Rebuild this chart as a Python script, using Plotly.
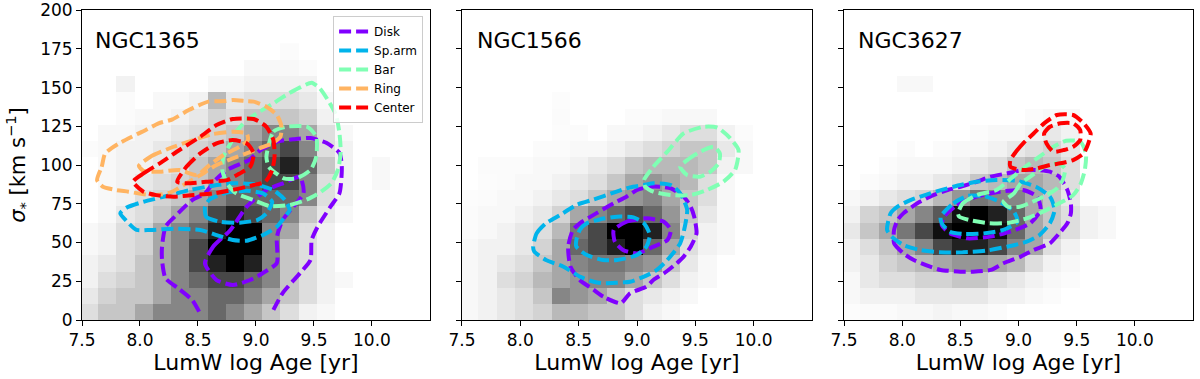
import numpy as np
import plotly.graph_objects as go

# ---------------- data ----------------
GALAXIES = ["NGC1365", "NGC1566", "NGC3627"]
REGIONS = ["Disk", "Sp.arm", "Bar", "Ring", "Center"]
REGION_COLORS = ["#8000ff", "#01b4eb", "#80ffb4", "#ffb462", "#ff0000"]

X_TICKS = [7.5, 8.0, 8.5, 9.0, 9.5, 10.0]
Y_TICKS = [0, 25, 50, 75, 100, 125, 150, 175, 200]

# 2D histogram bins (log age, sigma)
X_BIN_START = 7.483
X_BIN_WIDTH = 0.157
N_XBINS = 18
Y_BIN_WIDTH = 10.5
N_YBINS = 17

# histogram counts (relative), rows from sigma=0 upward
H_NGC1365 = [
    [2, 3, 3, 4, 5, 5, 5, 6, 5, 4, 3, 2, 1, 0.5, 0, 0, 0, 0],
    [1.5, 2.5, 3, 3, 4, 5, 5, 6, 6, 5, 4, 3, 2, 1, 0, 0, 0, 0],
    [1, 2, 2.5, 3, 4, 5, 6, 7, 7, 6, 5, 3, 2, 1, 0.5, 0, 0, 0],
    [1, 1.5, 2, 3, 4, 5, 7, 8, 9, 8, 5, 3, 2, 1, 0, 0, 0, 0],
    [0.5, 1, 2, 2.5, 4, 5, 7, 9, 10, 9, 5, 3, 2, 1, 0, 0, 0, 0],
    [0.5, 1, 2, 2.5, 4, 5, 6, 8, 9, 9, 5, 4, 2, 1, 0, 0, 0, 0],
    [0, 0.5, 1.5, 2, 3, 4, 5, 7, 8, 7, 6, 5, 3, 1.5, 0.5, 0, 0, 0],
    [0, 0.5, 1, 2, 2.5, 3, 4, 5, 6, 6, 6, 6, 5, 2, 1, 0, 0, 0],
    [0, 0.5, 1, 1.5, 2, 2.5, 3, 4, 5, 6, 7, 7, 5, 2, 1, 0, 0.5, 0],
    [0, 0.5, 1, 1, 1.5, 2, 3, 4, 5, 6, 7, 8, 6, 3, 1, 0, 0.5, 0],
    [0.3, 0.5, 1, 1, 1.5, 2, 2.5, 3, 4, 5, 6, 7, 5, 2, 1, 0, 0, 0],
    [0, 0.5, 0.5, 1, 1, 1.5, 2, 2.5, 3, 4, 5, 5, 4, 2, 0.5, 0, 0, 0],
    [0, 0, 0.3, 0.5, 0.5, 1, 1.5, 2.5, 2, 3, 3, 3, 2.5, 1, 0, 0, 0, 0],
    [0, 0, 0.3, 0, 0.5, 0.5, 1, 3.5, 1.5, 2, 2, 2, 1.5, 0.5, 0, 0, 0, 0],
    [0, 0, 1, 0, 0, 0, 0, 0.5, 0.5, 1, 1, 1, 1, 0, 0, 0, 0, 0],
    [0, 0, 0, 0, 0, 0, 0, 0, 0, 0.5, 0.5, 0.5, 0.3, 0, 0, 0, 0, 0],
    [0, 0, 0, 0, 0, 0, 0, 0, 0, 0, 0, 0.3, 0, 0, 0, 0, 0, 0],
]
H_NGC1566 = [
    [0.5, 1, 1.5, 2, 2.5, 3.5, 3.5, 3, 3, 2, 1, 0.5, 0, 0, 0, 0, 0, 0],
    [0.5, 1, 1.5, 2, 3, 5, 4.5, 4, 3, 2, 1.5, 1, 0.5, 0, 0, 0, 0, 0],
    [0.5, 1, 2, 2.5, 3.5, 4, 4.5, 5, 5, 4, 3, 2, 1, 0.5, 0, 0, 0, 0],
    [0.5, 1, 1.5, 2, 3, 4, 5, 5.5, 5.5, 5, 4.5, 3, 1.5, 0.5, 0, 0, 0, 0],
    [0.5, 1, 1, 1.5, 2.5, 4, 6, 7, 8, 10, 6, 4, 2, 1, 0.5, 0, 0, 0],
    [0.3, 0.5, 1, 1.5, 2, 3.5, 5.5, 7, 9, 9, 8, 5, 2.5, 1, 0.5, 0, 0, 0],
    [0.3, 0.5, 0.5, 1, 1.5, 2.5, 4, 5, 6, 7, 6, 4.5, 3, 1.5, 0.5, 0, 0, 0],
    [0.2, 0.3, 0.5, 0.5, 1, 1.5, 2, 3, 4, 4.5, 5, 4, 3, 2, 0.5, 0, 0, 0],
    [0, 0.2, 0.3, 0.5, 0.5, 1, 1.5, 2, 3, 4, 4.5, 4, 3.5, 2, 0.5, 0, 0, 0],
    [0, 0.3, 0.3, 0.3, 0.5, 0.5, 1, 1.5, 2, 3, 3.5, 3.5, 3.5, 3, 1, 0.5, 0, 0],
    [0, 0, 0, 0, 0.3, 0.3, 0.5, 0.5, 1, 1.5, 2, 2.5, 3, 3, 1.5, 0.5, 0, 0],
    [0, 0, 0, 0, 0, 0.2, 0.3, 0, 0.5, 0.5, 1, 1.5, 2, 2, 1, 0.3, 0, 0],
    [0, 0, 0, 0, 0, 0.3, 0, 0, 0, 0.3, 0.3, 0.5, 0.5, 0.5, 0, 0, 0, 0],
    [0, 0, 0, 0, 0, 0.2, 0, 0, 0, 0, 0, 0, 0, 0, 0, 0, 0, 0],
    [0] * 18,
    [0] * 18,
    [0] * 18,
]
H_NGC3627 = [
    [0.2, 0.3, 0.3, 0.5, 0.5, 0.8, 0.5, 0.5, 0.3, 0, 0, 0, 0, 0, 0, 0, 0, 0],
    [0.5, 1, 1, 1, 1.5, 1.5, 1.5, 1.5, 1, 1, 0.5, 0.3, 0, 0, 0, 0, 0, 0],
    [0.5, 1.5, 2, 2, 2.5, 2.5, 3, 3, 2, 1.5, 1, 0.5, 0.3, 0, 0, 0, 0, 0],
    [1, 1.5, 2.5, 3, 3.5, 4, 4.5, 4.5, 4, 3.5, 2, 1, 0.5, 0, 0, 0, 0, 0],
    [1, 2, 3, 4, 5, 7, 8, 8, 7, 5, 4, 2, 1, 0, 0, 0, 0, 0],
    [1.5, 3, 4, 5.5, 7, 8.5, 9.5, 9.5, 8.5, 6, 4, 3, 2, 1, 0.5, 0, 0, 0],
    [1, 2.5, 3, 4, 5, 6.5, 8.5, 9, 8, 6, 4, 3, 2, 1, 0.5, 0, 0, 0],
    [0.5, 1, 1.5, 2, 2.5, 3.5, 4.5, 5.5, 5, 5, 4, 3, 1.5, 0, 0, 0, 0, 0],
    [0, 0.3, 0.5, 1, 1, 1.5, 2, 3, 3.5, 4, 4, 3.5, 2, 0, 0, 0, 0, 0],
    [0, 0, 0.3, 0.5, 0.5, 0.5, 1, 1.5, 2, 3, 3.5, 3, 2, 0, 0, 0, 0, 0],
    [0, 0, 0, 0.3, 0, 0.3, 0.5, 0.5, 1, 1.5, 2, 2.5, 1.5, 0, 0, 0, 0, 0],
    [0, 0, 0, 0, 0, 0, 0, 0.3, 0.5, 0.5, 1, 1.5, 1, 0, 0, 0, 0, 0],
    [0, 0, 0, 0, 0, 0, 0, 0, 0, 0, 0.3, 0.5, 0.5, 0, 0, 0, 0, 0],
    [0] * 18,
    [0, 0, 0, 0.5, 0.5, 0, 0, 0, 0, 0, 0, 0, 0, 0, 0, 0, 0, 0],
    [0] * 18,
    [0] * 18,
]

# ---- contour paths (log age, sigma) ----
# NGC1365
N1365_DISK_OUT_X = [8.51, 8.45, 8.33, 8.22, 8.19, 8.19, 8.22, 8.30, 8.45, 8.56, 8.65, 8.75, 8.94, 9.02, 9.18, 9.32, 9.47, 9.61, 9.72, 9.74, 9.72, 9.64, 9.53, 9.48, 9.47, 9.38, 9.23, 9.15]
N1365_DISK_OUT_Y = [5.4, 12.9, 20.4, 26.9, 38.7, 47.3, 60.2, 66.7, 77.4, 81.7, 90.3, 96.8, 103.2, 108.6, 115.1, 116.6, 117.4, 114.2, 107.7, 98.7, 81.9, 72.9, 60.0, 51.6, 38.7, 30.3, 17.4, 6.5]
N1365_DISK_IN_X = [8.56, 8.63, 8.78, 8.92, 9.09, 9.24, 9.38, 9.41, 9.32, 9.23, 9.18, 9.18, 9.06, 8.95, 8.80, 8.66, 8.56]
N1365_DISK_IN_Y = [36.6, 47.3, 58.1, 73.1, 83.9, 88.4, 92.3, 81.9, 72.9, 64.5, 53.5, 36.8, 30.3, 25.8, 22.6, 25.8, 36.6]
N1365_ARM_OUT_X = [7.83, 7.89, 8.03, 8.23, 8.43, 8.63, 8.80, 8.98, 9.15, 9.25, 9.29, 9.25, 9.18, 9.06, 8.92, 8.80, 8.66, 8.52, 8.29, 8.09, 7.97, 7.89, 7.83]
N1365_ARM_OUT_Y = [68.8, 72.7, 76.3, 80.0, 83.9, 86.7, 88.2, 87.7, 83.9, 77.4, 71.0, 66.7, 60.2, 54.8, 51.2, 51.6, 54.8, 58.1, 58.9, 58.1, 58.1, 63.4, 68.8]
N1365_ARM_IN_X = [8.56, 8.57, 8.69, 8.86, 9.01, 9.09, 9.14, 9.06, 8.92, 8.75, 8.60, 8.56]
N1365_ARM_IN_Y = [73.1, 66.7, 63.4, 62.8, 64.5, 68.8, 76.3, 81.7, 83.4, 82.2, 77.8, 73.1]
N1365_BAR_OUT_X = [9.48, 9.38, 9.26, 9.15, 9.03, 8.92, 8.83, 8.78, 8.72, 8.71, 8.75, 8.83, 8.98, 9.12, 9.29, 9.44, 9.55, 9.65, 9.71, 9.73, 9.72, 9.69, 9.62, 9.55, 9.48]
N1365_BAR_OUT_Y = [153.1, 150.1, 145.2, 139.8, 134.4, 129.0, 121.5, 114.0, 105.4, 96.8, 88.2, 81.7, 77.4, 73.5, 74.2, 77.8, 82.2, 88.2, 97.8, 108.6, 120.4, 132.3, 141.9, 149.5, 153.1]
N1365_BAR_IN_X = [9.09, 9.15, 9.26, 9.44, 9.52, 9.52, 9.47, 9.35, 9.24, 9.11, 9.09]
N1365_BAR_IN_Y = [105.4, 121.5, 124.7, 124.7, 118.3, 105.4, 96.8, 91.4, 91.4, 98.9, 105.4]
N1365_RING_OUT_X = [7.63, 7.67, 7.70, 7.82, 7.93, 8.05, 8.16, 8.28, 8.42, 8.51, 8.59, 8.74, 8.80, 8.91, 8.98, 9.09, 9.18, 9.22, 9.21, 9.14, 9.03, 8.92, 8.80, 8.66, 8.52, 8.40, 8.26, 8.14, 8.02, 7.90, 7.79, 7.68, 7.63]
N1365_RING_OUT_Y = [90.3, 98.9, 107.5, 114.0, 118.3, 122.6, 126.9, 129.5, 135.5, 138.7, 140.9, 141.3, 141.9, 141.3, 140.9, 137.6, 132.3, 124.7, 118.3, 114.0, 110.8, 107.5, 104.3, 100.0, 93.5, 88.2, 82.2, 80.6, 81.3, 82.8, 83.9, 86.0, 90.3]
N1365_RING_IN_X = [7.99, 8.09, 8.29, 8.46, 8.63, 8.80, 8.92, 8.93, 8.86, 8.72, 8.60, 8.49, 8.34, 8.17, 8.03, 7.99]
N1365_RING_IN_Y = [99.4, 105.4, 111.8, 116.1, 120.0, 121.5, 120.4, 116.1, 111.8, 106.5, 100.0, 93.5, 96.8, 95.7, 96.3, 99.4]
N1365_CEN_OUT_X = [7.94, 8.03, 8.17, 8.34, 8.52, 8.66, 8.80, 8.98, 9.09, 9.15, 9.16, 9.14, 9.08, 8.98, 8.80, 8.63, 8.46, 8.29, 8.14, 8.03, 7.94]
N1365_CEN_OUT_Y = [89.2, 94.6, 101.1, 109.7, 118.3, 125.8, 129.7, 129.7, 124.7, 116.1, 105.4, 96.8, 89.2, 87.1, 83.9, 81.7, 80.6, 79.6, 80.6, 82.8, 89.2]
N1365_CEN_IN_X = [8.32, 8.40, 8.52, 8.66, 8.80, 8.92, 8.98, 8.95, 8.86, 8.75, 8.57, 8.40, 8.32]
N1365_CEN_IN_Y = [89.2, 98.9, 107.5, 114.0, 116.1, 114.0, 107.5, 98.9, 94.6, 90.3, 89.2, 88.2, 89.2]

# NGC1566
N1566_DISK_OUT_X = [8.86, 8.71, 8.63, 8.51, 8.43, 8.41, 8.45, 8.51, 8.65, 8.80, 8.91, 9.00, 9.11, 9.20, 9.29, 9.40, 9.46, 9.49, 9.51, 9.46, 9.40, 9.34, 9.23, 9.14, 9.08, 8.94, 8.86]
N1566_DISK_OUT_Y = [10.8, 15.1, 19.4, 25.8, 34.4, 47.3, 58.1, 62.4, 68.8, 75.3, 79.6, 83.9, 86.0, 86.0, 84.9, 79.6, 73.1, 66.7, 55.9, 47.3, 40.9, 36.6, 30.1, 25.8, 21.5, 17.2, 10.8]
N1566_DISK_IN_X = [8.80, 8.91, 9.08, 9.23, 9.29, 9.26, 9.14, 9.00, 8.88, 8.81, 8.80]
N1566_DISK_IN_Y = [58.1, 63.4, 65.6, 63.4, 58.1, 51.6, 47.3, 43.0, 45.2, 50.5, 58.1]
N1566_ARM_OUT_X = [8.11, 8.14, 8.22, 8.34, 8.48, 8.63, 8.80, 8.94, 9.06, 9.14, 9.29, 9.36, 9.40, 9.43, 9.41, 9.37, 9.26, 9.17, 9.06, 8.94, 8.83, 8.71, 8.63, 8.51, 8.37, 8.22, 8.12, 8.11]
N1566_ARM_OUT_Y = [47.3, 55.9, 62.4, 67.7, 74.2, 77.8, 82.2, 85.6, 87.1, 88.2, 87.1, 82.8, 77.4, 71.0, 60.2, 49.5, 38.7, 32.3, 28.0, 24.7, 24.1, 23.7, 24.7, 28.0, 34.4, 38.7, 44.1, 47.3]
N1566_ARM_IN_X = [8.48, 8.51, 8.57, 8.68, 8.83, 8.97, 9.06, 9.11, 9.08, 9.00, 8.83, 8.71, 8.57, 8.48, 8.48]
N1566_ARM_IN_Y = [51.6, 58.1, 62.4, 64.9, 66.7, 66.2, 62.4, 54.8, 47.3, 41.9, 38.7, 38.7, 41.9, 47.3, 51.6]
N1566_BAR_OUT_X = [9.06, 9.14, 9.26, 9.40, 9.57, 9.69, 9.80, 9.87, 9.84, 9.74, 9.60, 9.46, 9.29, 9.14, 9.07, 9.06]
N1566_BAR_OUT_Y = [90.3, 98.9, 108.6, 120.4, 124.7, 124.1, 117.2, 109.7, 96.8, 89.2, 83.9, 80.6, 80.6, 82.8, 86.0, 90.3]
N1566_BAR_IN_X = [9.37, 9.43, 9.54, 9.66, 9.71, 9.70, 9.63, 9.54, 9.43, 9.37]
N1566_BAR_IN_Y = [98.9, 103.2, 108.6, 111.8, 107.5, 101.1, 95.7, 92.5, 93.5, 98.9]

# NGC3627
N3627_DISK_OUT_X = [7.93, 7.93, 8.01, 8.10, 8.24, 8.33, 8.50, 8.61, 8.76, 8.87, 9.02, 9.13, 9.27, 9.35, 9.42, 9.45, 9.45, 9.42, 9.35, 9.27, 9.16, 9.04, 8.90, 8.76, 8.64, 8.50, 8.39, 8.24, 8.13, 8.01, 7.96, 7.93]
N3627_DISK_OUT_Y = [58.1, 49.5, 43.0, 38.7, 34.4, 32.3, 31.2, 31.2, 32.3, 36.6, 40.9, 45.2, 49.5, 55.9, 62.4, 68.8, 75.3, 83.9, 92.5, 95.7, 96.8, 96.8, 94.6, 92.5, 89.2, 86.0, 83.9, 79.6, 75.3, 68.8, 64.5, 58.1]
N3627_DISK_IN_X = [8.36, 8.47, 8.64, 8.84, 9.04, 9.16, 9.19, 9.10, 8.93, 8.76, 8.56, 8.41, 8.34, 8.36]
N3627_DISK_IN_Y = [66.7, 74.2, 79.6, 82.8, 83.9, 79.6, 71.0, 62.4, 57.0, 53.8, 52.7, 55.9, 61.3, 66.7]
N3627_ARM_OUT_X = [7.87, 7.90, 7.96, 8.07, 8.24, 8.44, 8.64, 8.81, 8.98, 9.15, 9.27, 9.31, 9.27, 9.18, 9.07, 8.90, 8.72, 8.52, 8.32, 8.15, 8.01, 7.91, 7.87]
N3627_ARM_OUT_Y = [58.1, 68.8, 73.1, 77.4, 81.7, 86.0, 89.2, 90.3, 89.9, 86.0, 79.6, 71.0, 62.4, 54.8, 50.5, 47.3, 44.7, 43.7, 43.7, 45.2, 48.4, 53.8, 58.1]
N3627_ARM_IN_X = [8.33, 8.44, 8.56, 8.70, 8.84, 8.96, 8.99, 8.87, 8.70, 8.53, 8.41, 8.34, 8.33]
N3627_ARM_IN_Y = [66.7, 75.3, 80.0, 80.0, 76.3, 69.9, 63.4, 58.1, 55.9, 55.5, 57.0, 62.4, 66.7]
N3627_BAR_OUT_X = [8.48, 8.52, 8.64, 8.81, 8.92, 9.04, 9.18, 9.30, 9.41, 9.53, 9.58, 9.57, 9.53, 9.47, 9.35, 9.21, 9.07, 8.92, 8.75, 8.58, 8.49, 8.48]
N3627_BAR_OUT_Y = [68.8, 75.3, 80.6, 83.9, 90.3, 97.8, 105.4, 111.8, 115.7, 115.1, 107.5, 96.8, 87.1, 80.6, 75.3, 69.9, 65.6, 62.8, 62.4, 64.5, 66.7, 68.8]
N3627_BAR_IN_X = [8.87, 8.96, 9.02, 9.10, 9.22, 9.33, 9.40, 9.38, 9.33, 9.24, 9.12, 9.01, 8.91, 8.87]
N3627_BAR_IN_Y = [76.3, 81.7, 88.2, 92.5, 98.9, 101.1, 97.8, 90.3, 84.9, 80.6, 76.3, 73.1, 73.1, 76.3]
N3627_CEN_OUT_X = [8.93, 8.99, 9.04, 9.13, 9.22, 9.33, 9.47, 9.56, 9.62, 9.60, 9.56, 9.47, 9.36, 9.27, 9.16, 9.04, 8.93, 8.93]
N3627_CEN_OUT_Y = [103.2, 109.7, 114.0, 120.4, 126.9, 132.3, 132.3, 126.9, 120.4, 114.0, 107.5, 103.2, 101.1, 100.0, 97.8, 96.8, 98.9, 103.2]
N3627_CEN_IN_X = [9.24, 9.22, 9.27, 9.36, 9.47, 9.53, 9.53, 9.47, 9.39, 9.30, 9.24]
N3627_CEN_IN_Y = [114.0, 120.4, 124.7, 126.9, 126.9, 122.6, 116.1, 111.8, 109.7, 108.6, 114.0]

# ---------------- figure ----------------
HISTS = [H_NGC1365, H_NGC1566, H_NGC3627]
CONTOURS = [
    [("Disk", N1365_DISK_OUT_X, N1365_DISK_OUT_Y), ("Disk", N1365_DISK_IN_X, N1365_DISK_IN_Y),
     ("Sp.arm", N1365_ARM_OUT_X, N1365_ARM_OUT_Y), ("Sp.arm", N1365_ARM_IN_X, N1365_ARM_IN_Y),
     ("Bar", N1365_BAR_OUT_X, N1365_BAR_OUT_Y), ("Bar", N1365_BAR_IN_X, N1365_BAR_IN_Y),
     ("Ring", N1365_RING_OUT_X, N1365_RING_OUT_Y), ("Ring", N1365_RING_IN_X, N1365_RING_IN_Y),
     ("Center", N1365_CEN_OUT_X, N1365_CEN_OUT_Y), ("Center", N1365_CEN_IN_X, N1365_CEN_IN_Y)],
    [("Disk", N1566_DISK_OUT_X, N1566_DISK_OUT_Y), ("Disk", N1566_DISK_IN_X, N1566_DISK_IN_Y),
     ("Sp.arm", N1566_ARM_OUT_X, N1566_ARM_OUT_Y), ("Sp.arm", N1566_ARM_IN_X, N1566_ARM_IN_Y),
     ("Bar", N1566_BAR_OUT_X, N1566_BAR_OUT_Y), ("Bar", N1566_BAR_IN_X, N1566_BAR_IN_Y)],
    [("Disk", N3627_DISK_OUT_X, N3627_DISK_OUT_Y), ("Disk", N3627_DISK_IN_X, N3627_DISK_IN_Y),
     ("Sp.arm", N3627_ARM_OUT_X, N3627_ARM_OUT_Y), ("Sp.arm", N3627_ARM_IN_X, N3627_ARM_IN_Y),
     ("Bar", N3627_BAR_OUT_X, N3627_BAR_OUT_Y), ("Bar", N3627_BAR_IN_X, N3627_BAR_IN_Y),
     ("Center", N3627_CEN_OUT_X, N3627_CEN_OUT_Y), ("Center", N3627_CEN_IN_X, N3627_CEN_IN_Y)],
]

x_edges = X_BIN_START + X_BIN_WIDTH * np.arange(N_XBINS + 1)
y_edges = Y_BIN_WIDTH * np.arange(N_YBINS + 1)

greys = [[0.0, "#ffffff"], [0.125, "#f0f0f0"], [0.25, "#d9d9d9"], [0.375, "#bdbdbd"],
         [0.5, "#969696"], [0.625, "#737373"], [0.75, "#525252"], [0.875, "#252525"], [1.0, "#000000"]]

FONT = "DejaVu Sans"
color_of = dict(zip(REGIONS, REGION_COLORS))


def axes_of(i):
    s = "" if i == 0 else str(i + 1)
    return "x" + s, "y" + s


fig = go.Figure()
for i, H in enumerate(HISTS):
    xa, ya = axes_of(i)
    fig.add_trace(go.Heatmap(x=x_edges, y=y_edges, z=H, colorscale=greys, zmin=0, zmax=9,
                             showscale=False, hoverinfo="skip", xaxis=xa, yaxis=ya))

shown = set()
for reg in REGIONS:
    for i, conts in enumerate(CONTOURS):
        xa, ya = axes_of(i)
        for name, cx, cy in conts:
            if name != reg:
                continue
            show = name not in shown
            shown.add(name)
            fig.add_trace(go.Scatter(x=cx, y=cy, mode="lines", name=name, legendgroup=name,
                                     showlegend=show, hoverinfo="skip",
                                     line=dict(color=color_of[name], width=4, dash="12px,5px",
                                               shape="spline", smoothing=0.6),
                                     xaxis=xa, yaxis=ya))

domains = [[0.0, 0.3132], [0.3420, 0.6571], [0.6859, 1.0]]
axis_common = dict(showline=True, mirror=True, linecolor="black", linewidth=1,
                   ticks="outside", ticklen=5, tickwidth=1, tickcolor="black", automargin=False,
                   showgrid=False, zeroline=False, tickfont=dict(family=FONT, size=17, color="black"))
layout = dict(width=1200, height=379, margin=dict(l=82, r=7, t=10, b=59),
              plot_bgcolor="white", paper_bgcolor="white",
              font=dict(family=FONT, color="black"))
for i in range(3):
    sx = "" if i == 0 else str(i + 1)
    layout["xaxis" + sx] = dict(axis_common, domain=domains[i], range=[7.5, 10.5], tickvals=X_TICKS,
                                ticktext=[f"{v:.1f}" for v in X_TICKS], anchor="y" + sx,
                                title=dict(text="LumW log Age [yr]", font=dict(family=FONT, size=22), standoff=4))
    layout["yaxis" + sx] = dict(axis_common, domain=[0, 1], range=[0, 200.05], tickvals=Y_TICKS,
                                showticklabels=(i == 0), anchor="x" + sx)
layout["yaxis"]["title"] = dict(text="<i>σ</i><sub>*</sub> [km s<sup>−1</sup>]",
                                font=dict(family=FONT, size=21), standoff=8)
fig.update_layout(**layout)

fig.update_layout(legend=dict(x=0.226, y=0.981, xanchor="left", yanchor="top",
                              bgcolor="rgba(255,255,255,0.85)", bordercolor="#cccccc", borderwidth=1,
                              font=dict(family=FONT, size=12, color="black"),
                              tracegroupgap=0))

title_x = [0.032, 0.037, 0.034]
for i, gal in enumerate(GALAXIES):
    sx = "" if i == 0 else str(i + 1)
    fig.add_annotation(text=gal, xref=f"x{sx} domain", yref=f"y{sx} domain", x=title_x[i], y=0.9,
                       xanchor="left", yanchor="middle", showarrow=False,
                       font=dict(family=FONT, size=22, color="black"))

fig.write_html("out.html", config={"displayModeBar": False},
               post_script="document.body.style.margin='0px';")
